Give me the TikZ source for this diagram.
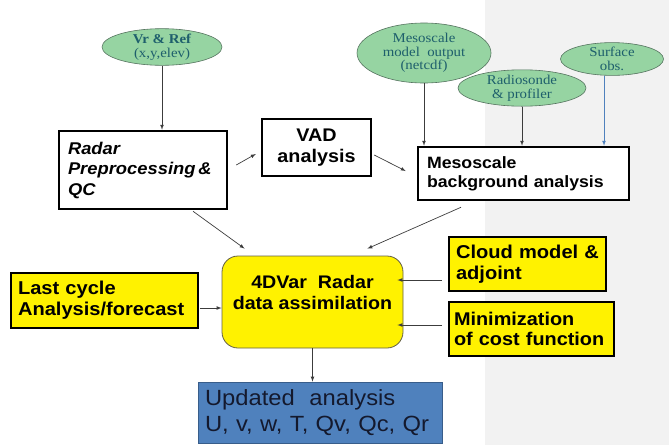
\documentclass[tikz,border=0pt]{standalone}
\usepackage{fontspec}
\newfontfamily\boxfont{Liberation Sans}[FakeStretch=1.08]
\newfontfamily\obsfont{Liberation Serif}[FakeStretch=1.1]
\usetikzlibrary{arrows, shapes.geometric}
\definecolor{obsgreen}{RGB}{150,212,162}
\definecolor{obsline}{RGB}{85,115,95}
\definecolor{obstext}{RGB}{30,95,108}
\definecolor{bggray}{RGB}{242,242,242}
\definecolor{arrgray}{RGB}{60,60,60}
\definecolor{sfcblue}{RGB}{79,129,189}
\definecolor{updblue}{RGB}{79,129,189}
\definecolor{updline}{RGB}{56,93,138}
\definecolor{updtext}{RGB}{20,25,45}
\tikzset{
  obs/.style={ellipse,draw=obsline,line width=0.6pt,fill=obsgreen,text=obstext,inner sep=0pt,align=center,
    font=\obsfont\fontsize{13.5}{13.5}\selectfont},
  thickbox/.style={draw,line width=2.5pt,fill=white,align=left,inner xsep=9pt,
    font=\boxfont\bfseries\fontsize{16.4}{19}\selectfont},
  yelbox/.style={draw,line width=1.8pt,fill=yellow,align=left,inner xsep=7pt,
    font=\boxfont\bfseries\fontsize{18.6}{21}\selectfont},
  arr/.style={->,>=latex,draw=arrgray,line width=0.7pt}
}

\begin{document}
\begin{tikzpicture}[x=1pt,y=-1pt]

      \useasboundingbox (0,0) rectangle (669,445);
      \fill[bggray] (485,0) rectangle (669,445);

      \node[obs,minimum width=120pt,minimum height=32pt] (vr) at (162,47)
        {\textbf{Vr \& Ref}\\(x,y,elev)};
      \node[obs,minimum width=134pt,minimum height=60pt] (model) at (424,53)
        {Mesoscale\\model~ output\\(netcdf)};
      \node[obs,minimum width=128pt,minimum height=34pt] (sonde) at (522,88)
        {Radiosonde\\\& profiler};
      \node[obs,minimum width=103pt,minimum height=32pt] (sfc) at (612,59)
        {Surface\\obs.};

      \node[thickbox,minimum width=168pt,minimum height=78pt,text width=150pt,
        font=\boxfont\bfseries\itshape\fontsize{17}{20.5}\selectfont] (radar) at (143,170)
        {Radar\\Preprocessing\,\&\\QC};
      \node[thickbox,minimum width=109pt,minimum height=57pt,align=center,
        font=\boxfont\bfseries\fontsize{18.3}{21}\selectfont] (vad) at (316.5,147.5)
        {VAD\\analysis};
      \node[thickbox,minimum width=211pt,minimum height=53pt,text width=193pt] (meso) at (523.5,173.5)
        {Mesoscale\\background analysis};

      \node[draw=black!70!yellow,line width=0.8pt,fill=yellow,rounded corners=16pt,
        minimum width=181pt,minimum height=92pt,align=center,
        font=\boxfont\bfseries\fontsize{18.2}{21}\selectfont] (assim) at (312.5,302)
        {4DVar~ Radar\\data assimilation\\[-2pt]\mbox{}};
      \node[yelbox,minimum width=187pt,minimum height=55pt,text width=173pt] (last) at (104.5,300.5)
        {Last cycle\\Analysis/forecast};
      \node[yelbox,minimum width=157pt,minimum height=54pt,text width=143pt] (cloud) at (527.5,264)
        {Cloud model \&\\adjoint};
      \node[yelbox,minimum width=165pt,minimum height=54pt,text width=155pt,inner xsep=5pt,
        font=\boxfont\bfseries\fontsize{18.4}{20}\selectfont] (mini) at (531.5,329)
        {Minimization\\of cost function};

      \node[draw=updline,line width=0.8pt,fill=updblue,text=updtext,align=left,
        minimum width=244pt,minimum height=61pt,inner xsep=7pt,text width=230pt,
        font=\boxfont\fontsize{22}{26}\selectfont] (upd) at (320,412.5)
        {Updated~ analysis\\U, v, w, T, Qv, Qc, Qr};

      \draw[arr](vr.south)--(vr.south |- radar.north);
      \draw[arr]([shift={(8,-5)}]radar.east)--([shift={(-5,6.5)}]vad.west);
      \draw[arr]([shift={(2,7.5)}]vad.east)--([shift={(-11,-2.5)}]meso.west);
      \draw[arr](model.south)--(model.south |- meso.north);
      \draw[arr](sonde.south)--(sonde.south |- meso.north);
      \draw[arr,draw=sfcblue]([shift={(-8,0)}]sfc.south)--([shift={(-8,0)}]sfc.south |- meso.north);
      \draw[arr]([shift={(50,1)}]radar.south)--([shift={(23,-7)}]assim.north west);
      \draw[arr]([shift={(-62.5,6)}]meso.south)--([shift={(-36,-7)}]assim.north east);
      \draw[arr]([shift={(1,7.5)}]last.east)--([shift={(0,6)}]assim.west);
      \draw[arr]([shift={(-6,16)}]cloud.west)--([shift={(-6,16)}]cloud.west -| assim.east);
      \draw[arr]([shift={(-6,-4)}]mini.west)--([shift={(-6,-4)}]mini.west -| assim.east);
      \draw[arr](assim.south)--(assim.south |- upd.north);
    \end{tikzpicture}
\end{document}
